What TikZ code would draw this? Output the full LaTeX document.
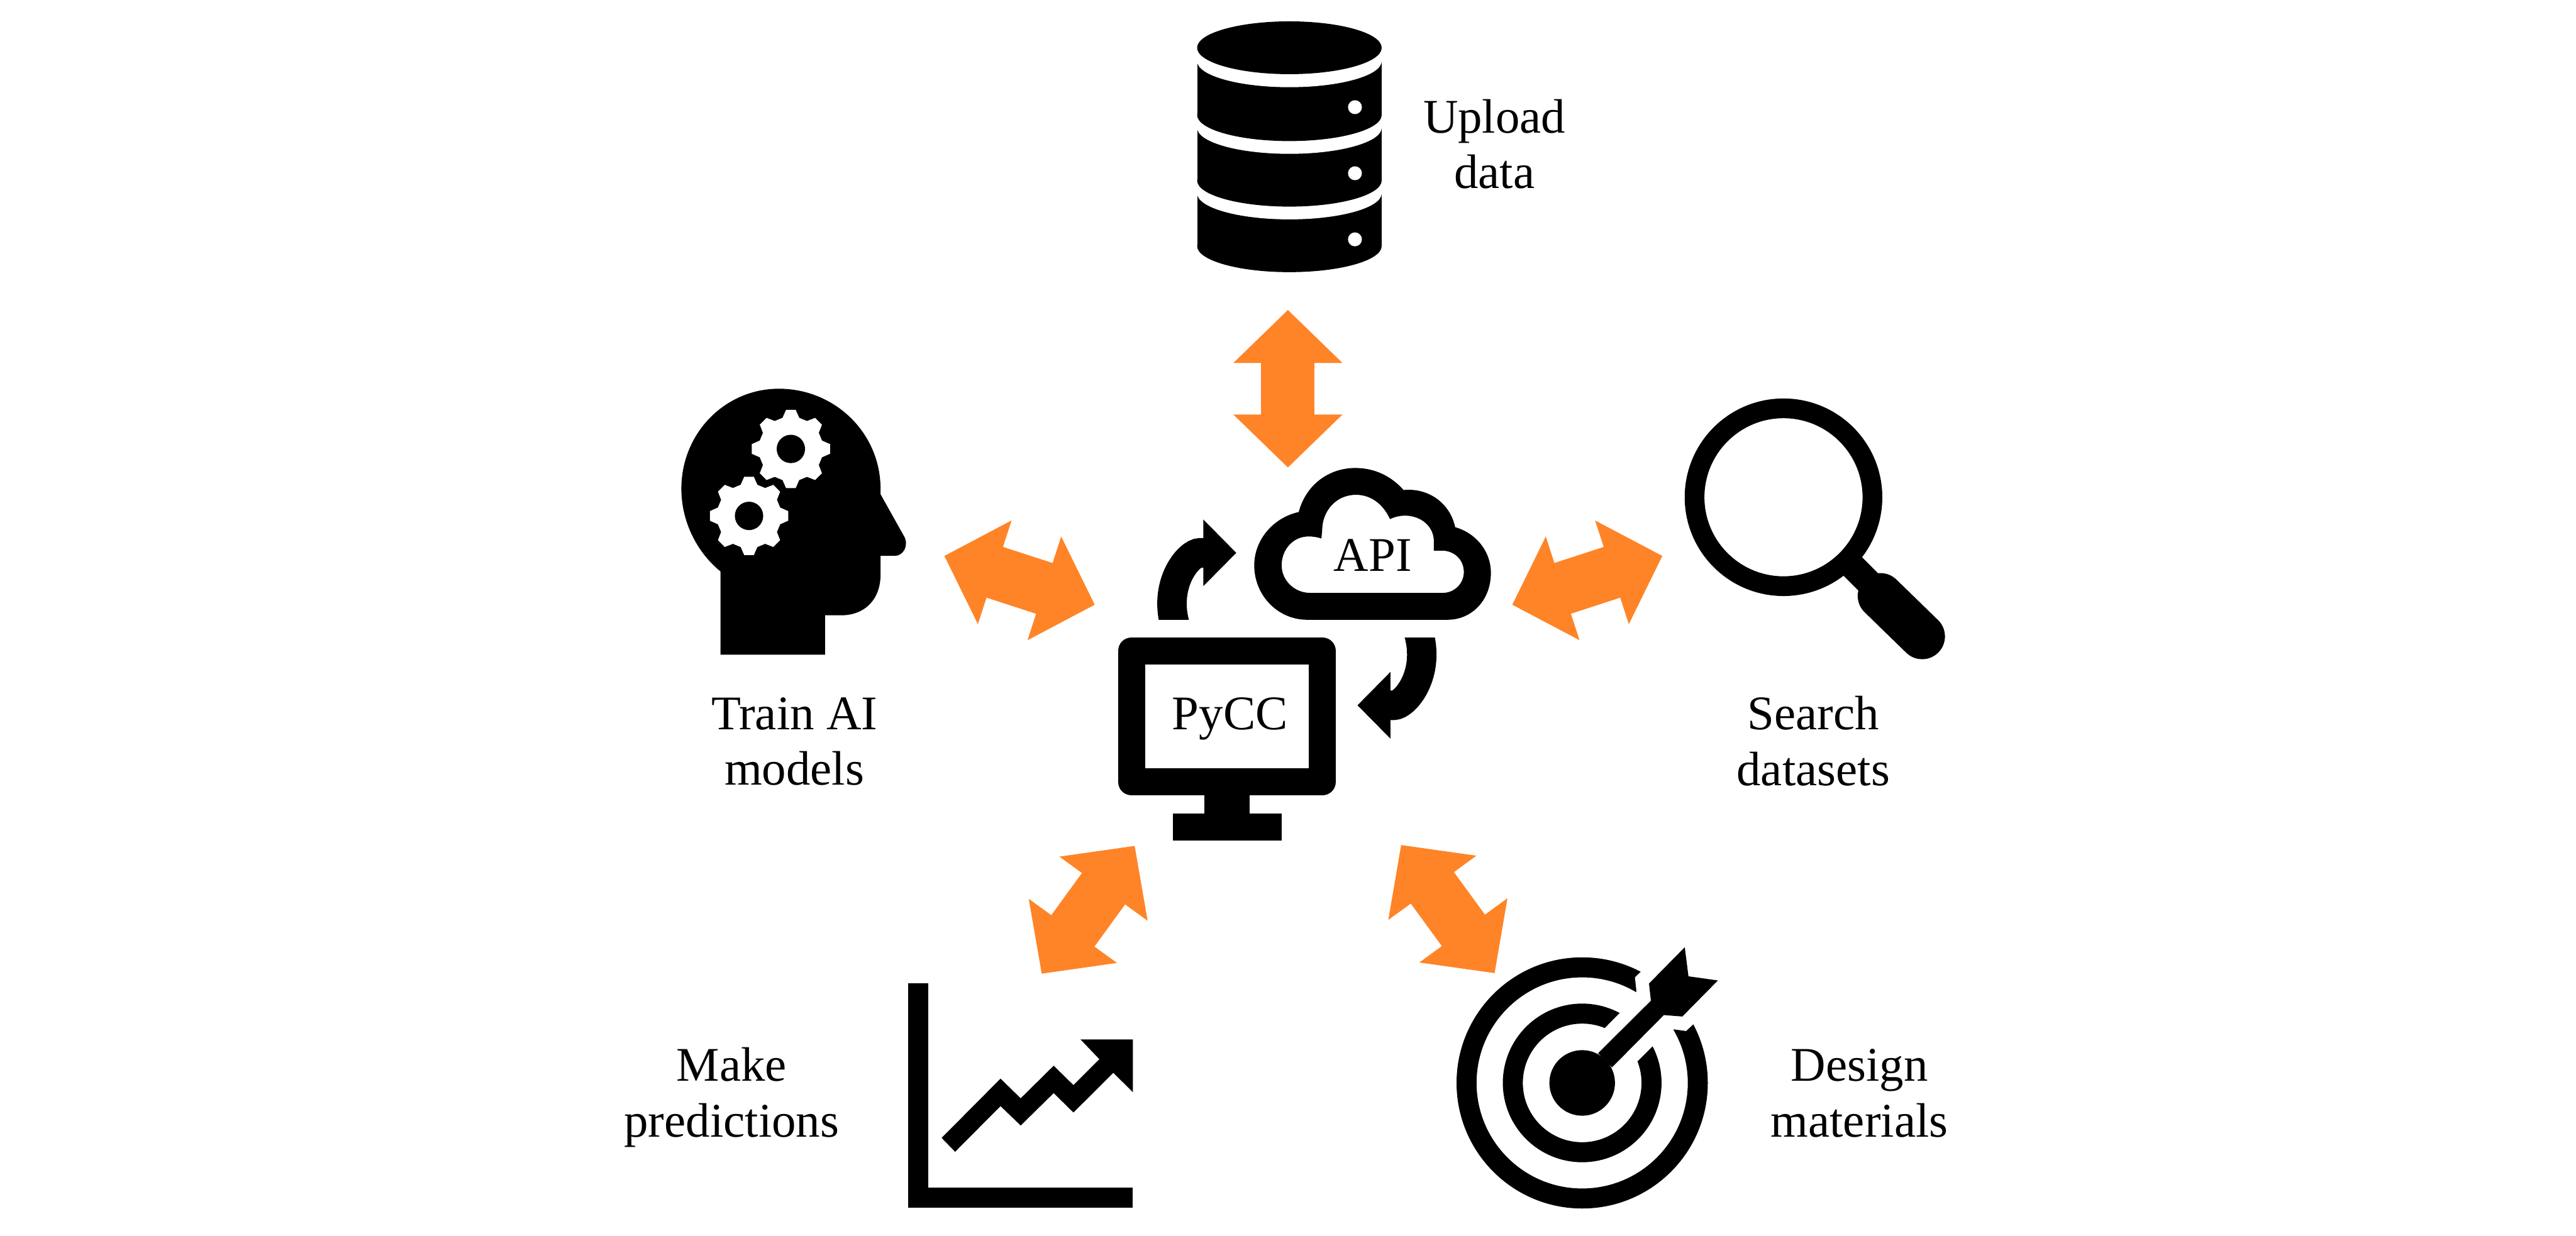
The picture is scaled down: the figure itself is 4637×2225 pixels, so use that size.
\documentclass[tikz,border=0pt]{standalone}
\usepackage{fontspec}
\setmainfont{Liberation Serif}
\usetikzlibrary{arrows.meta}
\definecolor{hubarrow}{HTML}{FF8427}

\begin{document}
\begin{tikzpicture}[x=0.01cm,y=-0.01cm,
lbl/.style={font=\fontsize{24.75pt}{28.45pt}\selectfont,align=center,anchor=base,inner sep=0pt},
fatarr/.style={draw=hubarrow,line width=.96cm,{Triangle[length=.955cm,width=1.905cm]}-{Triangle[length=.955cm,width=1.905cm]}},
curvarr/.style={draw=black,line width=.53cm,-{Triangle[length=.595cm,width=1.165cm]}},
monitor/.style={draw=black,line width=.49cm,line join=round,minimum width=3.43cm,minimum height=2.36cm,inner sep=0pt},
ring/.style={draw=black,line width=.36cm},
gear/.pic={
\fill[white] (-15:58) \foreach \a in {0,45,...,315} {-- ({\a-15}:58) -- ({\a-7}:71) -- ({\a+7}:71) -- ({\a+15}:58)} -- cycle;
\fill[black] (0,0) circle[radius=.255cm];}]
\useasboundingbox (0,0) rectangle (4637,2225);

\foreach \ytop/\ybot in {348/443,230/325,110/207} {
\fill (2155,\ytop) rectangle (2487,\ybot);
\fill (2321,\ybot) ellipse[x radius=1.66cm,y radius=.47cm];
\fill[white] (2321,\ytop) ellipse[x radius=1.66cm,y radius=.47cm];
}
\fill (2321,86) ellipse[x radius=1.66cm,y radius=.475cm];
\foreach \ydot in {193,312,431} \fill[white] (2439,\ydot) circle[radius=.125cm];
\node[lbl] (upload) at (2690,339) {Upload\\data};

\fill (1297,1179) -- (1485,1179) -- (1485,1108) -- (1513.5,1108) .. controls (1558,1108) and (1585,1078) .. (1585,1035) -- (1585,1001) -- (1610.5,1001) .. controls (1626,1001) and (1637,982) .. (1627,965) -- (1585,890) -- (1585,880) .. controls (1585,780) and (1503,700) .. (1402,700) .. controls (1305,700) and (1226.5,780) .. (1226.5,880) .. controls (1226.5,940) and (1255,995) .. (1297,1029) -- cycle;
\pic at (1423.6,808.4) {gear};
\pic at (1348.3,929) {gear};
\node[lbl] (train) at (1430,1413.5) {Train AI\\models};

\draw[line width=.355cm] (3210.4,895.4) circle[radius=1.6cm];
\draw[line width=.47cm] (3325,1010) -- (3375,1060);
\draw[line width=.82cm,line cap=round] (3385,1073) -- (3460,1146);
\node[lbl] (search) at (3264,1414) {Search\\datasets};

\fill (1635,1770.7) rectangle (1671,2175);
\fill (1635,2139) rectangle (2039.3,2175);
\fill (1695,2049) -- (1801,1942.3) -- (1837.3,1977.7) -- (1896.7,1919) -- (1932.3,1954) -- (1979,1907.3) -- (1945,1871.7) -- (2039.3,1871.7) -- (2039.3,1966.7) -- (2004,1931.7) -- (1932.3,2003.3) -- (1896.7,1968.3) -- (1837.3,2026.7) -- (1801,1991.7) -- (1719.3,2074) -- cycle;
\node[lbl] (predict) at (1317,2047) {Make\\predictions};

\draw[ring] (2848,1950) circle[radius=2.08cm];
\draw[ring] (2848,1950) circle[radius=1.2475cm];
\fill[white] (2860,1880) -- (2890,1850) -- (2915.7,1824) -- (2935,1805) -- (2945.7,1785) -- (2943,1760) -- (2954.3,1749) -- (2975,1730) -- (3090,1800) -- (3048,1844.4) -- (3035,1856.5) -- (3013,1853.5) -- (2995,1868) -- (2975,1883.6) -- (2949,1909.6) -- (2915,1940) -- cycle;
\fill (2848,1950) circle[radius=.59cm];
\fill (2876.7,1896.4) -- (2971.7,1802) -- (2968.3,1771) -- (3032.7,1705.7) -- (3039.3,1758) -- (3092.3,1765.5) -- (3028.3,1830.4) -- (2995,1827.8) -- (2901.7,1922) -- cycle;
\node[lbl] (design) at (3347,2047) {Design\\materials};

\node[monitor] (pycc) at (2208.5,1290) {};
\fill (2168,1432) rectangle (2249.5,1470);
\fill (2111,1465) rectangle (2307,1513.5);
\node[lbl] (pycctext) at (2214,1314) {PyCC};

\fill[even odd rule] (2353,1116) -- (2605.6,1116) .. controls (2650,1116) and (2683.7,1080) .. (2683.7,1031.7) .. controls (2683.7,993) and (2657,960) .. (2619.4,949.3) .. controls (2610,905) and (2570,878) .. (2526.5,882.4) .. controls (2505,858) and (2475,842.7) .. (2439.8,842.7) .. controls (2390,842.7) and (2350,875) .. (2337.8,922) .. controls (2292,932) and (2257.7,972) .. (2257.7,1018) .. controls (2257.7,1072) and (2300,1116) .. (2353,1116) -- cycle
(2358,1067.6) -- (2597,1067.6) .. controls (2618,1067.6) and (2635,1051) .. (2635,1030) .. controls (2635,1008) and (2618,991.5) .. (2595.4,991.5) -- (2581,991.5) -- (2581,974.5) .. controls (2581,948) and (2558,928.5) .. (2529,928.5) .. controls (2519,928.5) and (2510,931) .. (2502,934.8) .. controls (2490,908) and (2468,891) .. (2440.8,891) .. controls (2405,891) and (2380,920) .. (2380,955) -- (2378.6,969.7) .. controls (2371,967) and (2363,966) .. (2355.6,966) .. controls (2327,966) and (2307,990) .. (2307,1018) .. controls (2307,1045) and (2330,1067.6) .. (2358,1067.6) -- cycle;
\node[lbl] (api) at (2471,1028) {API};

\coordinate (uploadend) at (2318.3,558);
\coordinate (hubtop) at (2318.3,842);
\coordinate (trainend) at (1699.7,1001);
\coordinate (hubleft) at (1970.8,1089);
\coordinate (searchend) at (2992.5,1001);
\coordinate (hubright) at (2722,1089);
\coordinate (predictend) at (1875,1753.5);
\coordinate (hubdownleft) at (2042.6,1523);
\coordinate (designend) at (2690.5,1752.5);
\coordinate (hubdownright) at (2522,1521.5);
\draw[fatarr] (uploadend) -- (hubtop);
\draw[fatarr] (trainend) -- (hubleft);
\draw[fatarr] (searchend) -- (hubright);
\draw[fatarr] (predictend) -- (hubdownleft);
\draw[fatarr] (designend) -- (hubdownright);

\coordinate (pyccout) at (2115,1125);
\coordinate (apiin) at (2225.5,995.5);
\coordinate (apiout) at (2553.9,1140.5);
\coordinate (pyccin) at (2443.4,1270);
\begin{scope}
\clip (2000,900) rectangle (2300,1116);
\draw[curvarr] (pyccout) .. controls (2094,1050) and (2140,995.5) .. (2160,995.5) -- (apiin);
\end{scope}
\begin{scope}
\clip (2400,1148) rectangle (2650,1400);
\draw[curvarr] (apiout) .. controls (2574.9,1215.5) and (2528.9,1270) .. (2508.9,1270) -- (pyccin);
\end{scope}
\end{tikzpicture}
\end{document}
